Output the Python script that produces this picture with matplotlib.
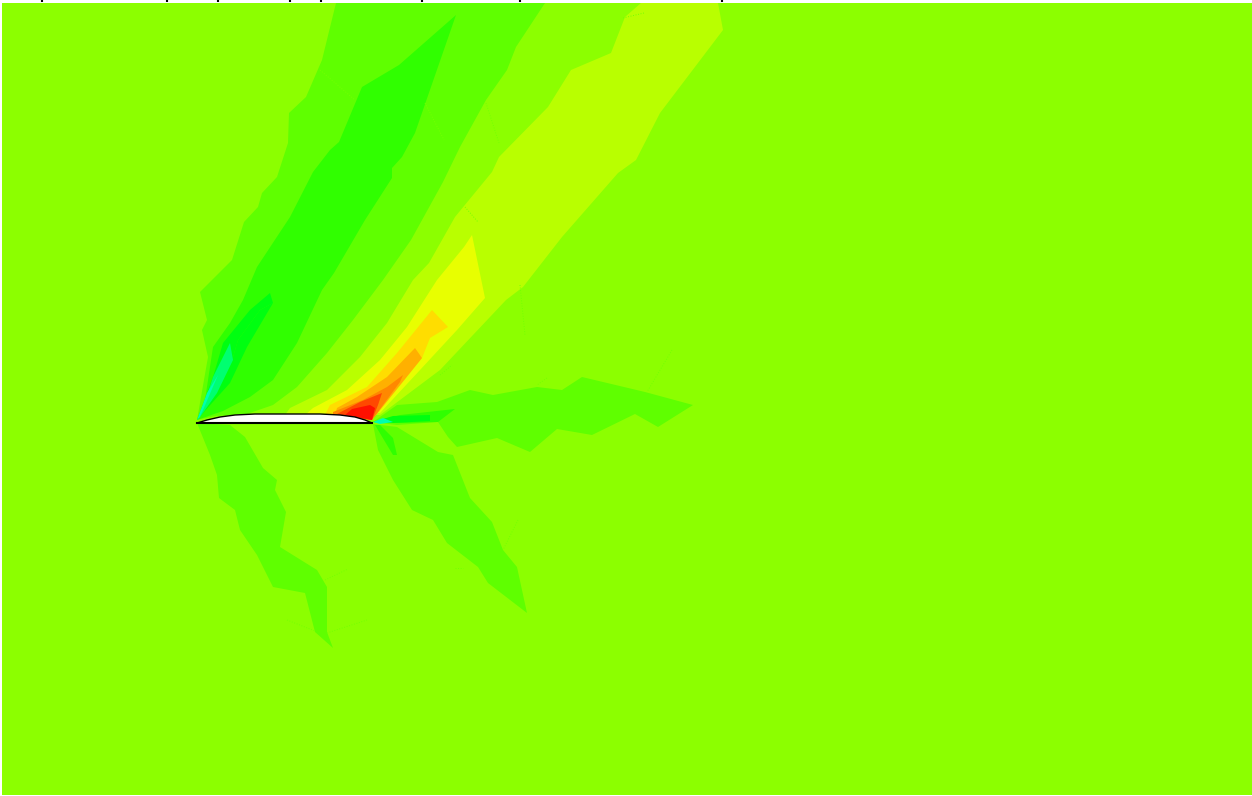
import matplotlib
matplotlib.use('Agg')
import matplotlib.pyplot as plt

# colour levels of the field, low to high
background = '#8cff00'
level_colors = {'m1': '#5fff00', 'm2': '#30ff00', 'm3': '#00ff10', 'm4': '#00ff70', 'm5': '#00ffb0',
                'p1': '#b9ff00', 'p2': '#e8ff00', 'p3': '#ffdd00', 'p4': '#ffb000', 'p5': '#ff8800',
                'p6': '#ff4800', 'p7': '#ff1000'}

# contour regions in pixels
upper_band = [(197,420),(208,357),(202,330),(207,320),(200,292),(232,260),(244,222),(258,207),(262,193),
              (277,177),(288,143),(289,113),(306,97),(322,60),(336,3),(545,3),(516,47),(507,70),(486,100),
              (460,147),(443,182),(411,240),(383,280),(353,320),(327,353),(297,387),(273,405),(247,414),(215,416)]
upper_inner = [(456,15),(415,133),(402,157),(392,168),(392,178),(365,220),(334,273),(322,290),(297,343),
               (273,380),(250,397),(223,411),(197,420),(205,400),(213,347),(230,323),(243,300),(257,267),(290,217),
               (313,172),(330,150),(339,142),(362,87),(399,65)]
upper_core = [(270,293),(273,303),(260,310),(238,340),(233,357),(203,413),(197,420),(213,377),(223,343),(250,310)]
upper_core_r = [(273,303),(247,347),(230,383),(203,413),(233,357),(238,340),(260,310)]
upper_tip = [(230,343),(233,360),(217,393),(200,417),(213,377)]
upper_edge = [(218,375),(200,417),(197,420),(207,393)]

warm_1 = [(641,3),(718,3),(723,30),(660,113),(636,160),(618,173),(562,237),(523,287),(506,300),(440,370),
          (380,415),(285,415),(290,408),(327,390),(360,357),(387,323),(413,280),(429,263),(455,217),(492,172),
          (499,157),(548,107),(571,70),(611,53),(625,17)]
warm_2 = [(472,235),(485,298),(457,330),(420,370),(380,413),(305,415),(313,408),(347,390),(380,360),(407,327),
          (437,280),(464,247)]
warm_3 = [(432,310),(448,327),(430,338),(422,358),(372,420),(325,415),(330,405),(367,387),(397,353)]
warm_4 = [(415,348),(422,358),(372,420),(335,415),(337,408),(357,397),(387,377)]
warm_5 = [(403,375),(400,382),(372,420),(333,415),(333,412),(363,400),(387,387)]
warm_6 = [(382,393),(378,405),(372,420),(335,415),(360,402)]
warm_7 = [(370,405),(375,408),(372,420),(345,415),(352,409)]

wake = [(373,422),(397,405),(437,402),(470,390),(493,395),(537,387),(562,390),(582,377),(645,392),(693,405),
        (658,427),(635,414),(592,435),(557,429),(530,452),(497,438),(457,447),(448,437),(438,422),(397,425)]
wake_inner = [(373,422),(400,415),(455,409),(438,422),(400,423)]
wake_core = [(373,422),(393,416),(430,415),(430,421),(393,423)]
wake_edge = [(373,422),(383,418),(393,422),(380,424)]

lower_left = [(197,423),(210,455),(217,475),(219,498),(235,510),(240,530),(257,555),(273,587),(305,593),(315,632),
              (333,648),(327,632),(327,587),(317,570),(280,547),(286,512),(275,490),(277,480),(263,468),(245,437),(230,425)]
lower_right = [(373,424),(378,450),(393,480),(412,510),(433,520),(447,543),(478,567),(488,583),(527,613),(517,567),
               (503,550),(492,522),(470,498),(453,455),(438,452),(397,427)]
lower_right_inner = [(375,425),(393,455),(397,455),(393,438),(380,425)]

regions = [(upper_band,'m1'),(upper_inner,'m2'),(upper_core,'m3'),(upper_core_r,'m3'),(upper_tip,'m4'),(upper_edge,'m5'),
           (warm_1,'p1'),(warm_2,'p2'),(warm_3,'p3'),(warm_4,'p4'),(warm_5,'p5'),(warm_6,'p6'),(warm_7,'p7'),
           (wake,'m1'),(wake_inner,'m2'),(wake_core,'m3'),(wake_edge,'m5'),
           (lower_left,'m1'),(lower_right,'m1'),(lower_right_inner,'m2')]

# airfoil outline
foil_top_x = [197,207,220,235,255,320,340,355,365,372]
foil_top_y = [423,420,417,415,414,414,415,417,420,423]
foil_bottom_x = [197,372]
foil_bottom_y = [422.5,422.5]

# faint mesh scraps
faint_lines = [[(320,70),(355,100)],[(425,103),(444,140)],[(486,103),(499,143)],[(623,18),(644,13)],
               [(465,207),(478,222)],[(287,620),(315,631)],[(327,633),(367,620)],[(325,580),(348,569)],
               [(672,350),(647,392)],[(518,520),(503,550)],[(455,568),(463,568)],[(547,378),(537,385)],
               [(440,375),(452,365)],[(520,285),(525,335)]]

# bottoms of the cut off text line at the top edge
text_marks_x = [42,167,218,290,321,422,520,722]

fig = plt.figure(figsize=(12.52,7.96), dpi=100)
ax = fig.add_axes([0,0,1,1])
ax.set_xlim(0,1252)
ax.set_ylim(796,0)
ax.axis('off')

ax.fill([2,1252,1252,2],[3,3,795,795], color=background, lw=0, antialiased=False, zorder=0)

z = 1
for pts, lvl in regions:
    xs = [p[0] for p in pts]
    ys = [p[1] for p in pts]
    ax.fill(xs, ys, color=level_colors[lvl], lw=0, zorder=z)
    z += 1

for line in faint_lines:
    ax.plot([p[0] for p in line],[p[1] for p in line], color='#74ff00', lw=0.7, ls=':', zorder=30)

ax.fill(foil_top_x, foil_top_y, color='white', lw=0, zorder=40)
ax.plot(foil_top_x, foil_top_y, color='black', lw=1.0, zorder=41)
ax.plot(foil_bottom_x, foil_bottom_y, color='black', lw=1.5, zorder=41)

ax.vlines(text_marks_x, 0, 2, color='black', lw=1.5, zorder=50)

fig.savefig('out.png', dpi=100)
